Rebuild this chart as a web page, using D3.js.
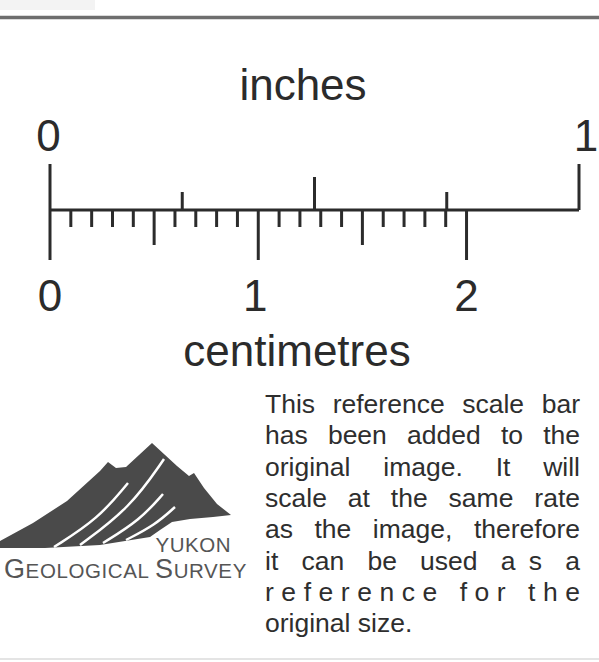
<!DOCTYPE html>
<html>
<head>
<meta charset="utf-8">
<script src="https://cdn.jsdelivr.net/npm/d3@7"></script>
<style>
  body { margin: 0; background: #fff; }
  text { font-family: "Liberation Sans", Arial, sans-serif; }
</style>
</head>
<body>
<script>
// scale bar data
let inchTicks = [0, 0.25, 0.5, 0.75, 1];
let inchLabels = [0, 1];
let mmTicks = d3.range(0, 21);       // millimetres 0..20
let cmLabels = [0, 1, 2];
let paraLines = [
  "This reference scale bar",
  "has been added to the",
  "original image. It will",
  "scale at the same rate",
  "as the image, therefore",
  "it can be used a s a",
  "reference for the",
  "original size."
];

let w = 599;
let h = 662;
let ink = "#2b2b2b";

const svg = d3.select("body")
  .append("svg")
  .attr("width", w)
  .attr("height", h);

// top border strip
svg.append("rect").attr("x", 0).attr("y", 0).attr("width", 95).attr("height", 10).attr("fill", "#f3f3f3");
svg.append("line")
  .attr("x1", 0).attr("x2", w).attr("y1", 17.5).attr("y2", 17.5)
  .attr("stroke", "#6e6e6e").attr("stroke-width", 3.5);
svg.append("line")
  .attr("x1", 0).attr("x2", w).attr("y1", 659).attr("y2", 659)
  .attr("stroke", "#e4e4e4").attr("stroke-width", 2);

let xIn = d3.scaleLinear().domain([0, 1]).range([50, 579]);
let xMm = d3.scaleLinear().domain([0, 25.4]).range([50, 579]);
let baseY = 210;

// main bar
svg.append("line")
  .attr("x1", xIn(0)).attr("x2", xIn(1))
  .attr("y1", baseY).attr("y2", baseY)
  .attr("stroke", ink).attr("stroke-width", 3);

// inch ticks (upwards)
svg.selectAll("line.in")
  .data(inchTicks)
  .enter()
  .append("line")
  .attr("class", "in")
  .attr("x1", function(d){ return xIn(d); })
  .attr("x2", function(d){ return xIn(d); })
  .attr("y1", baseY)
  .attr("y2", function(d){
    if (d == 0 || d == 1) return 164;
    if (d == 0.5) return 177;
    return 192;
  })
  .attr("stroke", ink).attr("stroke-width", 3);

// mm ticks (downwards)
svg.selectAll("line.mm")
  .data(mmTicks)
  .enter()
  .append("line")
  .attr("class", "mm")
  .attr("x1", function(d){ return xMm(d); })
  .attr("x2", function(d){ return xMm(d); })
  .attr("y1", baseY)
  .attr("y2", function(d){
    if (d % 10 == 0) return 260;
    if (d % 5 == 0) return 245;
    return 227;
  })
  .attr("stroke", ink).attr("stroke-width", 3);

// labels
svg.append("text")
  .attr("x", 303).attr("y", 100)
  .attr("text-anchor", "middle")
  .attr("font-size", 44).attr("fill", ink)
  .text("inches");

svg.selectAll("text.inl")
  .data(inchLabels)
  .enter()
  .append("text")
  .attr("class", "inl")
  .attr("x", function(d){ return xIn(d) + (d == 0 ? -1.5 : 7); })
  .attr("y", 151)
  .attr("text-anchor", "middle")
  .attr("font-size", 44).attr("fill", ink)
  .text(function(d){ return d; });

svg.selectAll("text.cml")
  .data(cmLabels)
  .enter()
  .append("text")
  .attr("class", "cml")
  .attr("x", function(d){ return xMm(d * 10) - (d == 1 ? 3 : 0); })
  .attr("y", 311)
  .attr("text-anchor", "middle")
  .attr("font-size", 44).attr("fill", ink)
  .text(function(d){ return d; });

svg.append("text")
  .attr("x", 297).attr("y", 366)
  .attr("text-anchor", "middle")
  .attr("font-size", 44).attr("fill", ink)
  .text("centimetres");

// paragraph, justified between left and right
let pL = 265, pR = 580, pTop = 413, lead = 31.3;
let para = svg.append("g").attr("font-size", 26.5).attr("fill", "#2e2e2e");

paraLines.forEach(function(line, i){
  let y = pTop + i * lead;
  let last = i == paraLines.length - 1;
  if (last) {
    para.append("text").attr("x", pL).attr("y", y).text(line);
    return;
  }
  if (i == 6) {
    para.append("text").attr("x", pL).attr("y", y)
      .attr("textLength", pR - pL).attr("lengthAdjust", "spacing")
      .text(line);
    return;
  }
  let words = line.split(" ");
  if (i == 5) words = ["it", "can", "be", "used", "a\u2002s", "a"];
  let nodes = words.map(function(wd){
    return para.append("text").attr("y", y).text(wd);
  });
  let widths = nodes.map(function(n){ return n.node().getComputedTextLength(); });
  let gap = (pR - pL - d3.sum(widths)) / (words.length - 1);
  let x = pL;
  nodes.forEach(function(n, k){
    n.attr("x", x);
    x += widths[k] + gap;
  });
});

// logo mountain
let mountain = [
  [0, 541], [33, 523], [67, 501], [100, 471], [108, 462], [116, 468], [126, 467],
  [152, 443], [177, 466], [189, 476], [194, 473], [204, 488], [217, 504], [231, 515],
  [213, 517], [190, 519], [172, 522], [160, 530], [150, 537], [100, 545], [45, 548], [0, 548]
];
svg.append("path")
  .attr("d", d3.line()(mountain) + "Z")
  .attr("fill", "#4a4a4a");

let streaks = [
  [[54, 547], [98, 519], [128, 483]],
  [[80, 545], [130, 508], [164, 459]],
  [[103, 543], [140, 520], [163, 494]],
  [[126, 540], [155, 525], [175, 507]]
];
svg.selectAll("path.streak")
  .data(streaks)
  .enter()
  .append("path")
  .attr("class", "streak")
  .attr("d", d3.line().curve(d3.curveBasis))
  .attr("fill", "none")
  .attr("stroke", "#fff")
  .attr("stroke-width", 2.5);

svg.append("text")
  .attr("x", 231).attr("y", 552)
  .attr("text-anchor", "end")
  .attr("font-size", 20.5).attr("fill", "#555")
  .attr("letter-spacing", 0.5)
  .text("YUKON");

let gs = svg.append("text")
  .attr("x", 4).attr("y", 578)
  .attr("fill", "#555")
  .attr("letter-spacing", 0.6);
gs.append("tspan").attr("font-size", 27).text("G");
gs.append("tspan").attr("font-size", 20.5).text("EOLOGICAL ");
gs.append("tspan").attr("font-size", 27).text("S");
gs.append("tspan").attr("font-size", 20.5).text("URVEY");
</script>
</body>
</html>
